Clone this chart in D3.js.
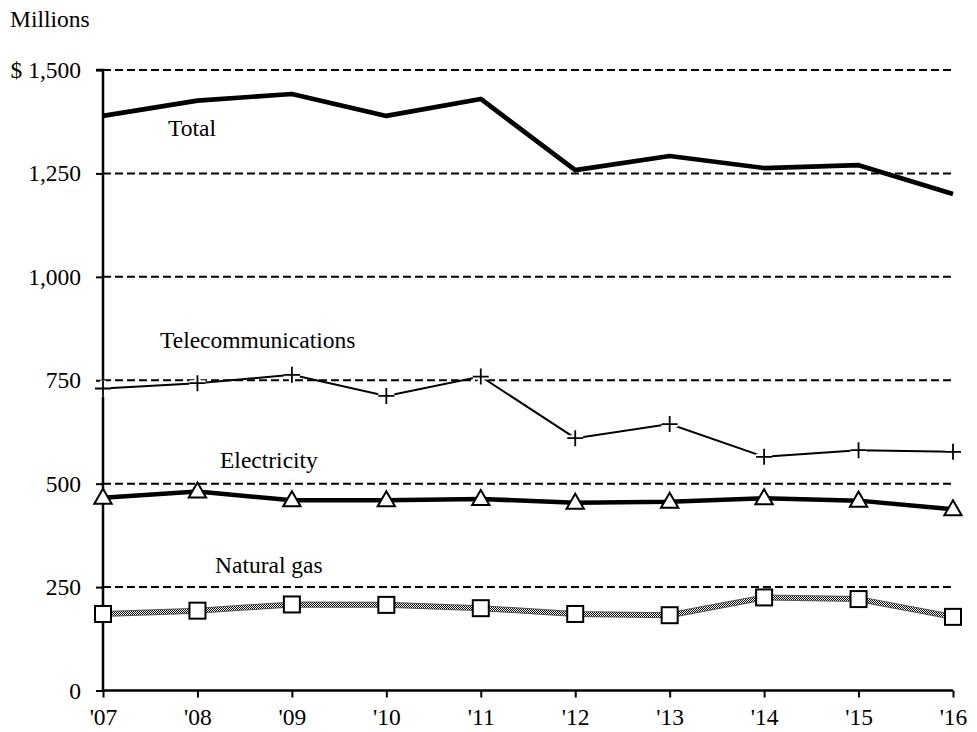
<!DOCTYPE html>
<html>
<head>
<meta charset="utf-8">
<script src="https://cdn.jsdelivr.net/npm/d3@7"></script>
<style>
  html, body { margin: 0; padding: 0; background: #fff; }
  svg { display: block; }
  text { font-family: "Liberation Serif", "Times New Roman", serif; fill: #000; }
</style>
</head>
<body>
<svg id="chart" width="977" height="732"></svg>
<script>
const years = ["'07", "'08", "'09", "'10", "'11", "'12", "'13", "'14", "'15", "'16"];
const total = [1389, 1426, 1442, 1389, 1430, 1258, 1292, 1263, 1270, 1200];
const telecom = [730, 743, 763, 712, 759, 610, 644, 565, 581, 577];
const electricity = [466, 481, 460, 460, 463, 454, 456, 465, 459, 438];
const naturalGas = [185, 193, 208, 207, 199, 185, 182, 225, 221, 178];
const yTicks = [0, 250, 500, 750, 1000, 1250, 1500];
const yTickLabels = ["0", "250", "500", "750", "1,000", "1,250", "$ 1,500"];
const unitLabel = "Millions";
const seriesLabels = ["Total", "Telecommunications", "Electricity", "Natural gas"];

const FS = 23.5;
const FONT = "'Liberation Serif', 'Times New Roman', serif";
const svg = d3.select("#chart");
const x = d3.scalePoint().domain(years).range([103, 953]);
const y = d3.scaleLinear().domain([0, 1500]).range([690.5, 70]);

// pattern for natural gas line
const defs = svg.append("defs");
const pat = defs.append("pattern").attr("id", "checker")
  .attr("patternUnits", "userSpaceOnUse").attr("width", 2).attr("height", 2);
pat.append("rect").attr("width", 2).attr("height", 2).attr("fill", "#fff");
pat.append("rect").attr("x", 0).attr("y", 0).attr("width", 1).attr("height", 1).attr("fill", "#000");
pat.append("rect").attr("x", 1).attr("y", 1).attr("width", 1).attr("height", 1).attr("fill", "#000");

// gridlines (dashed)
svg.append("g").selectAll("line").data(yTicks.filter(d => d > 0)).join("line")
  .attr("x1", x(years[0])).attr("x2", 955)
  .attr("y1", d => y(d)).attr("y2", d => y(d))
  .attr("stroke", "#000").attr("stroke-width", 2).attr("stroke-dasharray", "8,4");

// y axis
const yAxis = d3.axisLeft(y).tickValues(yTicks).tickSize(7).tickPadding(15)
  .tickFormat((d, i) => yTickLabels[i]);
const gy = svg.append("g").attr("transform", `translate(${x(years[0])},0)`).call(yAxis);
gy.attr("font-family", null).attr("font-size", null);
gy.select(".domain").attr("stroke", "#000").attr("stroke-width", 2.5).attr("d", `M-7,${y(1500)}H0V${y(0)}`);
gy.selectAll(".tick line").attr("stroke", "#000").attr("stroke-width", 2);
gy.selectAll(".tick text").style("font-size", FS + "px").style("font-family", FONT);

// x axis
const xAxis = d3.axisBottom(x).tickSize(7).tickPadding(11);
const gx = svg.append("g").attr("transform", `translate(0,${y(0)})`).call(xAxis);
gx.attr("font-family", null).attr("font-size", null);
gx.select(".domain").attr("stroke", "#000").attr("stroke-width", 2.5).attr("d", `M${x(years[0])},0H${x(years[years.length-1])}`);
gx.selectAll(".tick line").attr("stroke", "#000").attr("stroke-width", 2);
gx.selectAll(".tick text").style("font-size", FS + "px").style("font-family", FONT);

const line = d3.line().x((d, i) => x(years[i])).y(d => y(d));

// Natural gas: checker line
svg.append("path").datum(naturalGas).attr("d", line).attr("fill", "none")
  .attr("stroke", "#555").attr("stroke-width", 6).attr("stroke-linejoin", "round");
svg.append("path").datum(naturalGas).attr("d", line).attr("fill", "none")
  .attr("stroke", "url(#checker)").attr("stroke-width", 4).attr("stroke-linejoin", "round");
svg.append("g").selectAll("rect").data(naturalGas).join("rect")
  .attr("x", (d, i) => x(years[i]) - 8).attr("y", d => y(d) - 8)
  .attr("width", 16).attr("height", 16)
  .attr("fill", "#fff").attr("stroke", "#000").attr("stroke-width", 2);

// Electricity
svg.append("path").datum(electricity).attr("d", line).attr("fill", "none")
  .attr("stroke", "#000").attr("stroke-width", 4.5).attr("stroke-linejoin", "round");
const tri = d3.symbol().type(d3.symbolTriangle).size(130);
svg.append("g").selectAll("path").data(electricity).join("path")
  .attr("d", tri)
  .attr("transform", (d, i) => `translate(${x(years[i])},${y(d) + 1})`)
  .attr("fill", "#fff").attr("stroke", "#000").attr("stroke-width", 2);

// Telecommunications
svg.append("path").datum(telecom).attr("d", line).attr("fill", "none")
  .attr("stroke", "#000").attr("stroke-width", 2);
const plus = "M-8,0H8M0,-8V8";
const pg = svg.append("g").selectAll("g").data(telecom).join("g")
  .attr("transform", (d, i) => `translate(${x(years[i])},${y(d)})`);
pg.append("path").attr("d", plus).attr("stroke", "#fff").attr("stroke-width", 6);
pg.append("path").attr("d", plus).attr("stroke", "#000").attr("stroke-width", 1.8);

// Total
svg.append("path").datum(total).attr("d", line).attr("fill", "none")
  .attr("stroke", "#000").attr("stroke-width", 4.7).attr("stroke-linejoin", "round");

// labels
svg.append("text").attr("x", 10).attr("y", 27).style("font-size", FS + "px").style("font-family", FONT).text(unitLabel);
const labelPos = [[168, 136], [160, 348], [220, 468], [215, 573]];
svg.append("g").selectAll("text").data(seriesLabels).join("text")
  .attr("x", (d, i) => labelPos[i][0]).attr("y", (d, i) => labelPos[i][1])
  .style("font-size", FS + "px").style("font-family", FONT).text(d => d);
</script>
</body>
</html>
